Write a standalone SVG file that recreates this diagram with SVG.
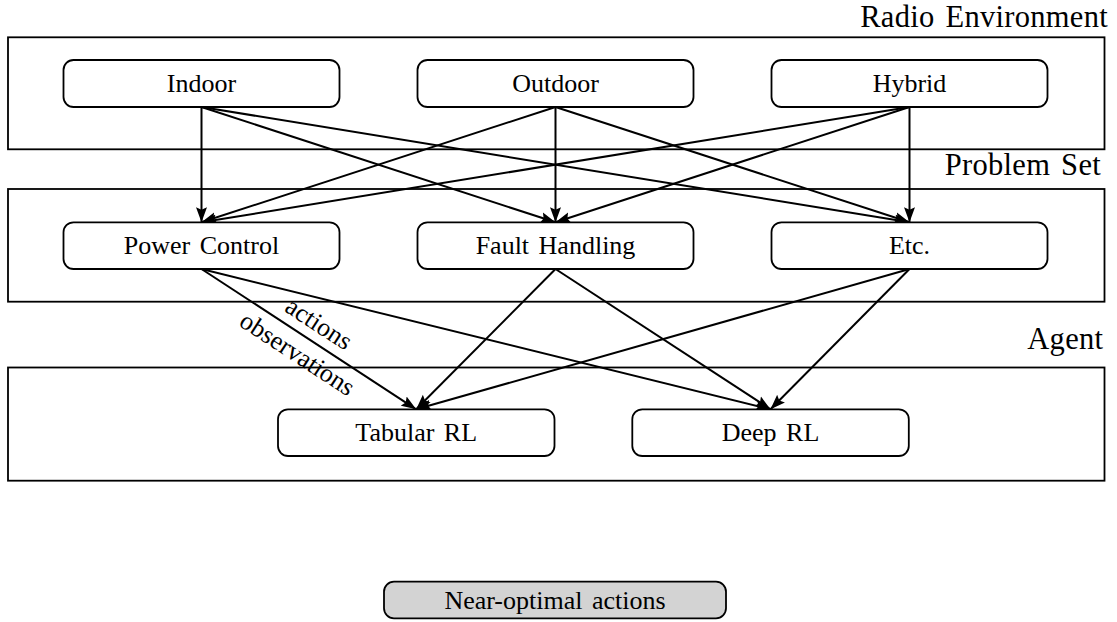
<svg xmlns="http://www.w3.org/2000/svg" width="1117" height="622" viewBox="0 0 1117 622">
<style>
.frame{fill:none;stroke:#000;stroke-width:1.8}
.node{fill:#fff;stroke:#000;stroke-width:1.8}
.gray{fill:#d3d3d3;stroke:#000;stroke-width:1.8}
text{font-family:'Liberation Serif','DejaVu Serif',serif;fill:#000}
.lbl{font-size:26px;text-anchor:middle;word-spacing:3px}
.title{font-size:30.5px;text-anchor:end;word-spacing:3px;letter-spacing:0.3px}
.edge{stroke:#000;stroke-width:2;fill:none;marker-end:url(#arr)}
</style>
<defs>
<marker id="arr" markerUnits="userSpaceOnUse" markerWidth="16" markerHeight="12" refX="15" refY="6" orient="auto">
<path d="M0,0.5 L15,6 L0,11.5 L2.5,6 z" fill="#000"/>
</marker>
</defs>
<rect width="1117" height="622" fill="#fff"/>

<g id="radio-environment">
<rect class="frame" x="8" y="37.3" width="1096.5" height="112"/>
<text class="title" x="1108" y="27.2">Radio Environment</text>
</g>
<g id="problem-set">
<rect class="frame" x="8" y="189" width="1096.5" height="112.7"/>
<text class="title" x="1101" y="175">Problem Set</text>
</g>
<g id="agent">
<rect class="frame" x="8" y="367.5" width="1096.5" height="113.2"/>
<text class="title" x="1103.3" y="349">Agent</text>
</g>

<g id="connectors">
<line class="edge" x1="201.5" y1="107" x2="201.5" y2="222.3"/>
<line class="edge" x1="201.5" y1="107" x2="555.5" y2="222.3"/>
<line class="edge" x1="201.5" y1="107" x2="909.5" y2="222.3"/>
<line class="edge" x1="555.5" y1="107" x2="201.5" y2="222.3"/>
<line class="edge" x1="555.5" y1="107" x2="555.5" y2="222.3"/>
<line class="edge" x1="555.5" y1="107" x2="909.5" y2="222.3"/>
<line class="edge" x1="909.5" y1="107" x2="201.5" y2="222.3"/>
<line class="edge" x1="909.5" y1="107" x2="555.5" y2="222.3"/>
<line class="edge" x1="909.5" y1="107" x2="909.5" y2="222.3"/>
<line class="edge" x1="201.5" y1="269" x2="416.2" y2="409.3"/>
<line class="edge" x1="201.5" y1="269" x2="770.5" y2="409.3"/>
<line class="edge" x1="555.5" y1="269" x2="416.2" y2="409.3"/>
<line class="edge" x1="555.5" y1="269" x2="770.5" y2="409.3"/>
<line class="edge" x1="909.5" y1="269" x2="416.2" y2="409.3"/>
<line class="edge" x1="909.5" y1="269" x2="770.5" y2="409.3"/>
<g transform="translate(201.5 269) rotate(33.16)">
<text class="lbl" x="128.2" y="-10">actions</text>
<text class="lbl" x="126.7" y="27">observations</text>
</g>
</g>

<g id="indoor">
<rect class="node" x="63.5" y="60" width="276" height="47" rx="10"/>
<text class="lbl" x="201.5" y="92.2">Indoor</text>
</g>
<g id="outdoor">
<rect class="node" x="417.5" y="60" width="276" height="47" rx="10"/>
<text class="lbl" x="555.5" y="92.2">Outdoor</text>
</g>
<g id="hybrid">
<rect class="node" x="771.5" y="60" width="276" height="47" rx="10"/>
<text class="lbl" x="909.5" y="92.2">Hybrid</text>
</g>
<g id="power-control">
<rect class="node" x="63.5" y="222.3" width="276" height="46.7" rx="10"/>
<text class="lbl" x="201.5" y="254.3">Power Control</text>
</g>
<g id="fault-handling">
<rect class="node" x="417.5" y="222.3" width="276" height="46.7" rx="10"/>
<text class="lbl" x="555.5" y="254.3">Fault Handling</text>
</g>
<g id="etc">
<rect class="node" x="771.5" y="222.3" width="276" height="46.7" rx="10"/>
<text class="lbl" x="909.5" y="254.3">Etc.</text>
</g>
<g id="tabular-rl">
<rect class="node" x="278" y="409.3" width="276.5" height="46.7" rx="10"/>
<text class="lbl" x="416.2" y="441.3">Tabular RL</text>
</g>
<g id="deep-rl">
<rect class="node" x="632.3" y="409.3" width="276.5" height="46.7" rx="10"/>
<text class="lbl" x="770.5" y="441.3">Deep RL</text>
</g>
<g id="near-optimal-actions">
<rect class="gray" x="384" y="581.7" width="342" height="36.6" rx="10"/>
<text class="lbl" x="555" y="609">Near-optimal actions</text>
</g>
</svg>
